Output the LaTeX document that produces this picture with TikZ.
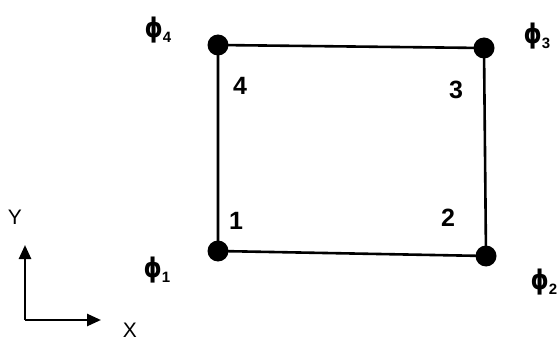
\documentclass[tikz,border=0pt]{standalone}
\usepackage{fontspec}
\setmainfont{Liberation Sans}
\newfontfamily\phifont{DejaVu Sans}
\usetikzlibrary{arrows.meta}
\newcommand{\myphi}[1]{\scalebox{0.85}[1]{\fontsize{27}{29}\selectfont\phifont\bfseries ϕ}\raisebox{-5pt}{\fontsize{15}{16}\selectfont\bfseries #1}}
\begin{document}
\begin{tikzpicture}[x=1pt,y=-1pt,
  edge/.style={line width=2.6pt},
  dot/.style={circle,fill=black,inner sep=0pt,minimum size=21pt},
  lbl/.style={font=\fontsize{25}{27}\selectfont\bfseries,inner sep=0pt},
  phil/.style={inner sep=0pt},
  axis/.style={line width=2.6pt,-{Triangle[length=14pt,width=12pt]}}]
\useasboundingbox[fill=white] (0,0) rectangle (557,342);
\node[dot] (n4) at (218,45) {};
\node[dot] (n3) at (484,48) {};
\node[dot] (n1) at (218,251) {};
\node[dot] (n2) at (486,256) {};
\draw[edge] (n1.center) -- (n2.center) -- (n3.center) -- (n4.center) -- cycle;
\node[lbl] (l4) at (240,86) {4};
\node[lbl] (l3) at (456,90) {3};
\node[lbl] (l1) at (236,221) {1};
\node[lbl] (l2) at (448,218) {2};
\node[phil] (p4) at (158,30) {\myphi{4}};
\node[phil] (p3) at (537,36) {\myphi{3}};
\node[phil] (p1) at (157,270) {\myphi{1}};
\node[phil] (p2) at (544,282) {\myphi{2}};
\coordinate (o) at (25,320);
\coordinate (ye) at (25,245);
\coordinate (xe) at (101,320);
\draw[axis] (o) -- (ye);
\draw[axis] (o) -- (xe);
\node[font=\fontsize{21}{22}\selectfont,inner sep=0pt] (ly) at (15,217) {Y};
\node[font=\fontsize{21}{22}\selectfont,inner sep=0pt] (lx) at (130,330) {X};
\end{tikzpicture}
\end{document}
